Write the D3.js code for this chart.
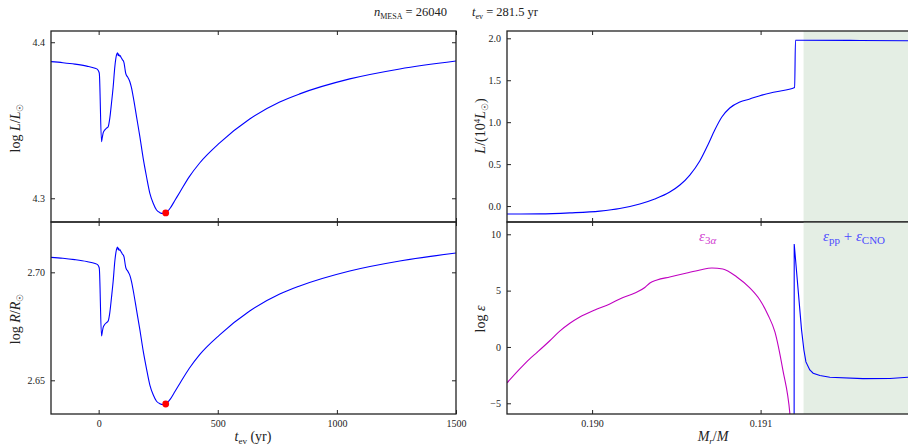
<!DOCTYPE html>
<html><head><meta charset="utf-8">
<script src="https://cdn.jsdelivr.net/npm/d3@7"></script>
<style>
body{margin:0;background:#fff;}
svg{display:block;}
text{font-family:"Liberation Serif","DejaVu Serif",serif;fill:#222;}
</style></head>
<body>
<script>
// ---- data ----
const tev = [-200,-150,-100,-50,-15,-5,2,3,12,15,19,26,33,40,47,54,61,68,75,79.5,82,84,86,90,93,97,100,104,107,110,113,117,121,126,131,138,145,159,173,187,201,215,229,243,257,270,281.5,300,321,342,380,424,508,634,760,844,1054,1264,1500];
const logL = [4.3876,4.3869,4.3860,4.3847,4.3833,4.3826,4.3806,4.3797,4.3363,4.3387,4.3419,4.3438,4.3449,4.3459,4.3515,4.3611,4.3715,4.3844,4.3919,4.3933,4.3915,4.3925,4.3912,4.3915,4.3906,4.3896,4.3887,4.3880,4.3865,4.3835,4.3805,4.3787,4.3779,4.3765,4.3747,4.3707,4.3651,4.3523,4.3395,4.3256,4.3138,4.3032,4.2968,4.2925,4.2908,4.2903,4.2906,4.2936,4.2989,4.3042,4.3137,4.3226,4.3355,4.3508,4.3617,4.3669,4.3765,4.3829,4.3880];
const logR = [2.70694,2.70653,2.70588,2.70500,2.70407,2.70356,2.70222,2.70153,2.67051,2.67222,2.67454,2.67593,2.67671,2.67745,2.68148,2.68843,2.69597,2.70523,2.71065,2.71171,2.71042,2.71111,2.71019,2.71042,2.70972,2.70903,2.70838,2.70792,2.70690,2.70477,2.70259,2.70130,2.70079,2.69977,2.69856,2.69569,2.69171,2.68259,2.67343,2.66361,2.65528,2.64778,2.64329,2.64032,2.63917,2.63880,2.63903,2.64120,2.64495,2.64875,2.65546,2.66190,2.67106,2.68208,2.68995,2.69366,2.70060,2.70523,2.70894];
const tNow = 281.5, logLNow = 4.2906, logRNow = 2.63903;

const mrL = [0.189495,0.189689,0.189868,0.190046,0.190164,0.190283,0.190372,0.190461,0.190521,0.190580,0.190639,0.190687,0.190728,0.190770,0.190817,0.190877,0.190936,0.190996,0.191085,0.191202,0.191207,0.191530,0.191875];
const Lnorm = [-0.095,-0.093,-0.081,-0.060,-0.030,0.024,0.084,0.167,0.251,0.370,0.537,0.728,0.907,1.062,1.169,1.241,1.277,1.316,1.360,1.412,1.977,1.975,1.971];

const mr3a = [0.189495,0.189571,0.189630,0.189672,0.189749,0.189808,0.189868,0.189927,0.190016,0.190105,0.190177,0.190254,0.190313,0.190343,0.190385,0.190461,0.190562,0.190640,0.190711,0.190776,0.190859,0.190936,0.190996,0.191044,0.191085,0.191132,0.191174,0.191180];
const eps3a = [-3.19,-1.95,-1.06,-0.50,0.55,1.40,2.10,2.66,3.28,3.82,4.35,4.79,5.28,5.68,5.94,6.21,6.57,6.83,7.01,6.92,6.21,5.24,4.17,2.84,1.33,-2.04,-5.95,-7.0];

const mrPP = [0.191199,0.1911995,0.191243,0.191257,0.191269,0.191292,0.191312,0.191352,0.191411,0.191607,0.191768,0.191873,0.191946];
const epsPP = [-8.0,9.14,1.52,-0.27,-1.33,-2.04,-2.33,-2.53,-2.69,-2.81,-2.80,-2.69,-2.65];

const burnStart = 0.191255;
const tTicks = [0,500,1000,1500];
const lTicks = [4.3,4.4];
const rTicks = [2.65,2.70];
const lumTicks = [0,0.5,1.0,1.5,2.0];
const epsTicks = [-5,0,5,10];
const mTicks = [0.190,0.191];

// ---- layout ----
const W=908,H=446;
const svg=d3.select("body").append("svg").attr("width",W).attr("height",H);
const defs=svg.append("defs");

const L0=51,L1=456,R0=507,R1=920,T0=31,MID=222,B1=414;
const xT=d3.scaleLinear().domain([-200,1500]).range([L0,L1]);
const yL=d3.scaleLinear().domain([4.2848,4.4072]).range([MID,T0]);
const yR=d3.scaleLinear().domain([2.6344,2.7233]).range([B1,MID]);
const xM=d3.scaleLinear().domain([0.189495,0.191946]).range([R0,R1]);
const yLum=d3.scaleLinear().domain([-0.19,2.087]).range([MID,T0]);
const yEps=d3.scaleLinear().domain([-5.95,11.09]).range([B1,MID]);

const BLUE="#0000ff", MAG="#c000c0";
let clipN=0;
function panel(x0,x1,y0,y1){
  const id="clip"+(clipN++);
  defs.append("clipPath").attr("id",id).append("rect").attr("x",x0).attr("y",y0).attr("width",x1-x0).attr("height",y1-y0);
  const g=svg.append("g");
  const plot=g.append("g").attr("clip-path",`url(#${id})`);
  return {g,plot};
}
function axes(g,xs,ys,xt,yt,x0,x1,y0,y1,fmtX,fmtY){
  const tk=4;
  const mk=(ax)=>ax.tickSizeInner(-tk).tickSizeOuter(0).tickPadding(6);
  const b=g.append("g").attr("transform",`translate(0,${y1})`).call(mk(d3.axisBottom(xs).tickValues(xt).tickFormat(fmtX||(()=>""))));
  const t=g.append("g").attr("transform",`translate(0,${y0})`).call(mk(d3.axisTop(xs).tickValues(xt).tickFormat(()=>"")));
  const l=g.append("g").attr("transform",`translate(${x0},0)`).call(mk(d3.axisLeft(ys).tickValues(yt).tickFormat(fmtY)));
  const r=g.append("g").attr("transform",`translate(${x1},0)`).call(mk(d3.axisRight(ys).tickValues(yt).tickFormat(()=>"")));
  [b,t,l,r].forEach(a=>{a.select(".domain").remove();a.selectAll("line").attr("stroke","#222").attr("stroke-width",1);
    a.selectAll("text").attr("font-size",10).attr("fill","#222").style("font-family","'Liberation Serif',serif");});
  g.append("rect").attr("x",x0).attr("y",y0).attr("width",x1-x0).attr("height",y1-y0)
    .attr("fill","none").attr("stroke","#222").attr("stroke-width",1.3);
}

// Left top
{
  const {g,plot}=panel(L0,L1,T0,MID);
  const line=d3.line().curve(d3.curveMonotoneX).x((d,i)=>xT(tev[i])).y(d=>yL(d));
  plot.append("path").datum(logL).attr("d",line).attr("fill","none").attr("stroke",BLUE).attr("stroke-width",1.1);
  plot.append("circle").attr("cx",xT(tNow)).attr("cy",yL(logLNow)).attr("r",3.4).attr("fill","#ff0000");
  axes(g,xT,yL,tTicks,lTicks,L0,L1,T0,MID,null,d3.format(".1f"));
}
// Left bottom
{
  const {g,plot}=panel(L0,L1,MID,B1);
  const line=d3.line().curve(d3.curveMonotoneX).x((d,i)=>xT(tev[i])).y(d=>yR(d));
  plot.append("path").datum(logR).attr("d",line).attr("fill","none").attr("stroke",BLUE).attr("stroke-width",1.1);
  plot.append("circle").attr("cx",xT(tNow)).attr("cy",yR(logRNow)).attr("r",3.4).attr("fill","#ff0000");
  axes(g,xT,yR,tTicks,rTicks,L0,L1,MID,B1,d3.format("d"),d3.format(".2f"));
}
// Right top
{
  const {g,plot}=panel(R0,R1,T0,MID);
  plot.append("rect").attr("x",xM(burnStart)).attr("y",T0).attr("width",R1-xM(burnStart)).attr("height",MID-T0).attr("fill","#e4eee4");
  const line=d3.line().curve(d3.curveMonotoneX).x((d,i)=>xM(mrL[i])).y(d=>yLum(d));
  plot.append("path").datum(Lnorm).attr("d",line).attr("fill","none").attr("stroke",BLUE).attr("stroke-width",1.1);
  axes(g,xM,yLum,mTicks,lumTicks,R0,R1,T0,MID,null,d3.format(".1f"));
}
// Right bottom
{
  const {g,plot}=panel(R0,R1,MID,B1);
  plot.append("rect").attr("x",xM(burnStart)).attr("y",MID).attr("width",R1-xM(burnStart)).attr("height",B1-MID).attr("fill","#e4eee4");
  const l3=d3.line().curve(d3.curveMonotoneX).x((d,i)=>xM(mr3a[i])).y(d=>yEps(d));
  plot.append("path").datum(eps3a).attr("d",l3).attr("fill","none").attr("stroke",MAG).attr("stroke-width",1.1);
  const lp=d3.line().x((d,i)=>xM(mrPP[i])).y(d=>yEps(d));
  plot.append("path").datum(epsPP).attr("d",lp).attr("fill","none").attr("stroke",BLUE).attr("stroke-width",1.1);
  axes(g,xM,yEps,mTicks,epsTicks,R0,R1,MID,B1,d3.format(".3f"),d3.format("d"));
  // labels
  const c1="#d040d0", c2="#4a4aff";
  const t1=g.append("text").attr("x",699).attr("y",241).attr("font-size",15).attr("fill",c1);
  t1.append("tspan").attr("font-style","italic").attr("fill",c1).text("ε");
  t1.append("tspan").attr("font-size",11).attr("dy",3).attr("fill",c1).text("3");
  t1.append("tspan").attr("font-size",11).attr("font-style","italic").attr("fill",c1).text("α");
  const t2=g.append("text").attr("x",823).attr("y",241).attr("font-size",15).attr("fill",c2);
  t2.append("tspan").attr("font-style","italic").attr("fill",c2).text("ε");
  t2.append("tspan").attr("font-size",11).attr("dy",3).attr("fill",c2).text("pp");
  t2.append("tspan").attr("dy",-3).attr("fill",c2).text(" + ");
  t2.append("tspan").attr("font-style","italic").attr("fill",c2).text("ε");
  t2.append("tspan").attr("font-size",11).attr("dy",3).attr("fill",c2).text("CNO");
}

// Title
{
  const t=svg.append("text").attr("x",456).attr("y",16).attr("text-anchor","middle").attr("font-size",12.5);
  t.append("tspan").attr("font-style","italic").text("n");
  t.append("tspan").attr("font-size",8).attr("dy",2.5).text("MESA");
  t.append("tspan").attr("dy",-2.5).text(" = 26040\u2003\u2003");
  t.append("tspan").attr("font-style","italic").text("t");
  t.append("tspan").attr("font-size",8).attr("dy",2.5).text("ev");
  t.append("tspan").attr("dy",-2.5).text(" = 281.5 yr");
}
// Axis labels
function ylab(x,y,build){
  const t=svg.append("text").attr("transform",`translate(${x},${y}) rotate(-90)`).attr("text-anchor","middle").attr("font-size",14);
  build(t);
}
ylab(20,128,t=>{
  t.append("tspan").text("log  ");
  t.append("tspan").attr("font-style","italic").text("L");
  t.append("tspan").text("/");
  t.append("tspan").attr("font-style","italic").text("L");
  t.append("tspan").attr("font-size",9).attr("dy",3).text("☉");
});
ylab(20,319,t=>{
  t.append("tspan").text("log  ");
  t.append("tspan").attr("font-style","italic").text("R");
  t.append("tspan").text("/");
  t.append("tspan").attr("font-style","italic").text("R");
  t.append("tspan").attr("font-size",9).attr("dy",3).text("☉");
});
ylab(485,126,t=>{
  t.append("tspan").attr("font-style","italic").text("L");
  t.append("tspan").text("/(10");
  t.append("tspan").attr("font-size",9).attr("dy",-5).text("4");
  t.append("tspan").attr("font-style","italic").attr("dy",5).text("L");
  t.append("tspan").attr("font-size",9).attr("dy",3).text("☉");
  t.append("tspan").attr("dy",-3).text(")");
});
ylab(485,319,t=>{
  t.append("tspan").text("log  ");
  t.append("tspan").attr("font-style","italic").text("ε");
});
{
  const t=svg.append("text").attr("x",253).attr("y",441).attr("text-anchor","middle").attr("font-size",14);
  t.append("tspan").attr("font-style","italic").text("t");
  t.append("tspan").attr("font-size",9).attr("dy",3).text("ev");
  t.append("tspan").attr("dy",-3).text("  (yr)");
}
{
  const t=svg.append("text").attr("x",713).attr("y",441).attr("text-anchor","middle").attr("font-size",14);
  t.append("tspan").attr("font-style","italic").text("M");
  t.append("tspan").attr("font-size",9).attr("dy",3).attr("font-style","italic").text("r");
  t.append("tspan").attr("dy",-3).text("/");
  t.append("tspan").attr("font-style","italic").text("M");
}
</script>
</body></html>
